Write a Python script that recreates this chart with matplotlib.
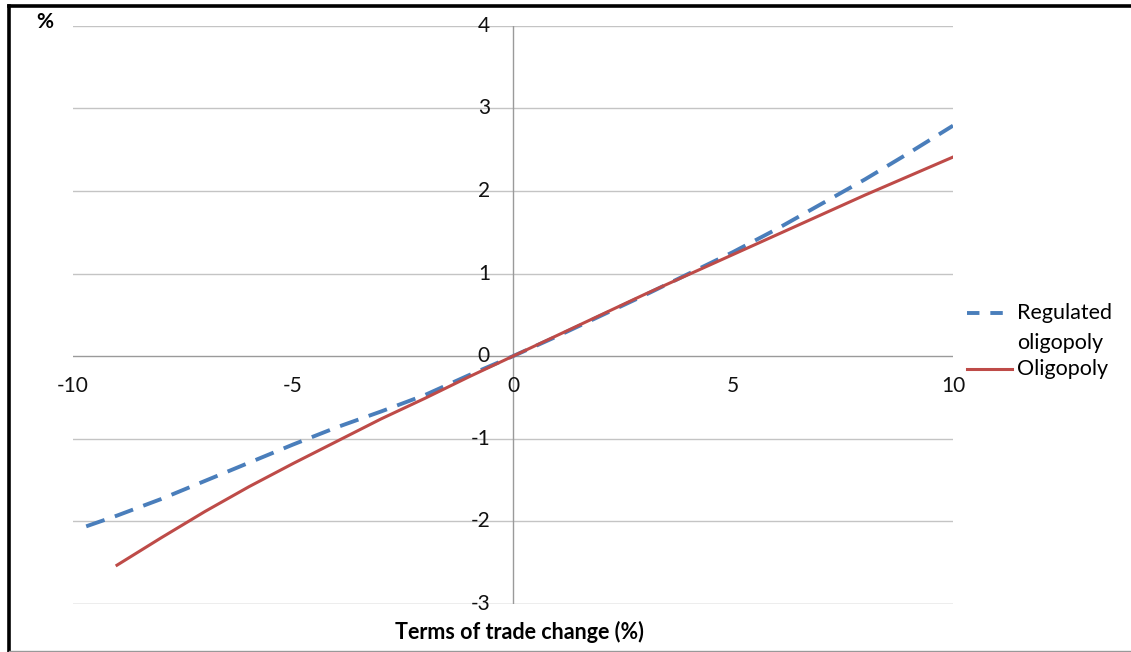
import matplotlib.pyplot as plt
from matplotlib.lines import Line2D

plt.rcParams['font.family'] = ['Lato', 'DejaVu Sans']

# data
reg_x = [-9.7, -9, -8, -7, -6, -5, -4, -3, -2, -1, 0, 1, 2, 3, 4, 5, 6, 7, 8, 9, 10]
reg_y = [-2.06, -1.93, -1.73, -1.51, -1.29, -1.07, -0.86, -0.67, -0.47, -0.23, 0.0,
         0.24, 0.49, 0.74, 1.0, 1.26, 1.54, 1.84, 2.14, 2.46, 2.79]
oli_x = [-9, -8, -7, -6, -5, -4, -3, -2, -1, 0, 1, 2, 3, 4, 5, 6, 7, 8, 9, 10]
oli_y = [-2.53, -2.20, -1.88, -1.58, -1.30, -1.03, -0.76, -0.51, -0.25, 0.0,
         0.25, 0.5, 0.75, 0.99, 1.23, 1.47, 1.71, 1.95, 2.18, 2.41]
x_ticks = [-10, -5, 0, 5, 10]
y_ticks = [-3, -2, -1, 0, 1, 2, 3, 4]

blue = '#4a7ebb'
red = '#be4b48'

fig = plt.figure(figsize=(11.31, 6.52), dpi=100)
ax = fig.add_axes([73/1131, 48/652, 880/1131, 578.3/652])
ax.set_xlim(-10, 10)
ax.set_ylim(-3, 4)
for s in ax.spines.values():
    s.set_visible(False)
ax.set_xticks([])
ax.set_yticks([])

# gridlines
for yv in y_ticks:
    if yv not in (0, -3):
        ax.axhline(yv, color='#c4c4c4', lw=1.0, zorder=1)
ax.axhline(-3, color='#a6a6a6', lw=1.0, zorder=1)
ax.axhline(0, color='#9a9a9a', lw=1.0, zorder=1)
ax.axvline(0, color='#9a9a9a', lw=1.0, zorder=1)

# tick labels at the axes crossing
for yv in y_ticks:
    ax.annotate(str(yv), xy=(0, yv), xytext=(-23, 0), textcoords='offset pixels',
                ha='right', va='center', fontsize=15, color='#111111')
for xv in x_ticks:
    ax.annotate(str(xv), xy=(xv, 0), xytext=(0, -30), textcoords='offset pixels',
                ha='center', va='center', fontsize=15, color='#111111')

ax.plot(reg_x, reg_y, color=blue, lw=2.8, ls=(0, (5, 2.8)), zorder=3)
ax.plot(oli_x, oli_y, color=red, lw=2.2, zorder=4)

fig.text(519/1131, 1 - 632/652, 'Terms of trade change (%)', ha='center', va='center',
         fontsize=15.5, fontweight='bold')
fig.text(45/1131, 1 - 22/652, '%', ha='center', va='center', fontsize=15, fontweight='bold')

# legend
fig.add_artist(Line2D([967/1131, 1012/1131], [1 - 313/652] * 2, color=blue, lw=2.8,
                      ls=(0, (3.2, 2.8))))
fig.add_artist(Line2D([967/1131, 1012/1131], [1 - 369/652] * 2, color=red, lw=2.2))
fig.text(1017/1131, 1 - 313/652, 'Regulated', ha='left', va='center', fontsize=15.5)
fig.text(1017/1131, 1 - 343/652, 'oligopoly', ha='left', va='center', fontsize=15.5)
fig.text(1017/1131, 1 - 369/652, 'Oligopoly', ha='left', va='center', fontsize=15.5)

# outer frame
fig.add_artist(Line2D([8.5/1131, 8.5/1131], [0, 1 - 5.5/652], color='black', lw=2.6))
fig.add_artist(Line2D([8.5/1131, 1], [1 - 5.5/652] * 2, color='black', lw=2.6))
fig.add_artist(Line2D([8.5/1131, 1], [1/652] * 2, color='#999999', lw=1.0))

fig.savefig('out.png', dpi=100)
